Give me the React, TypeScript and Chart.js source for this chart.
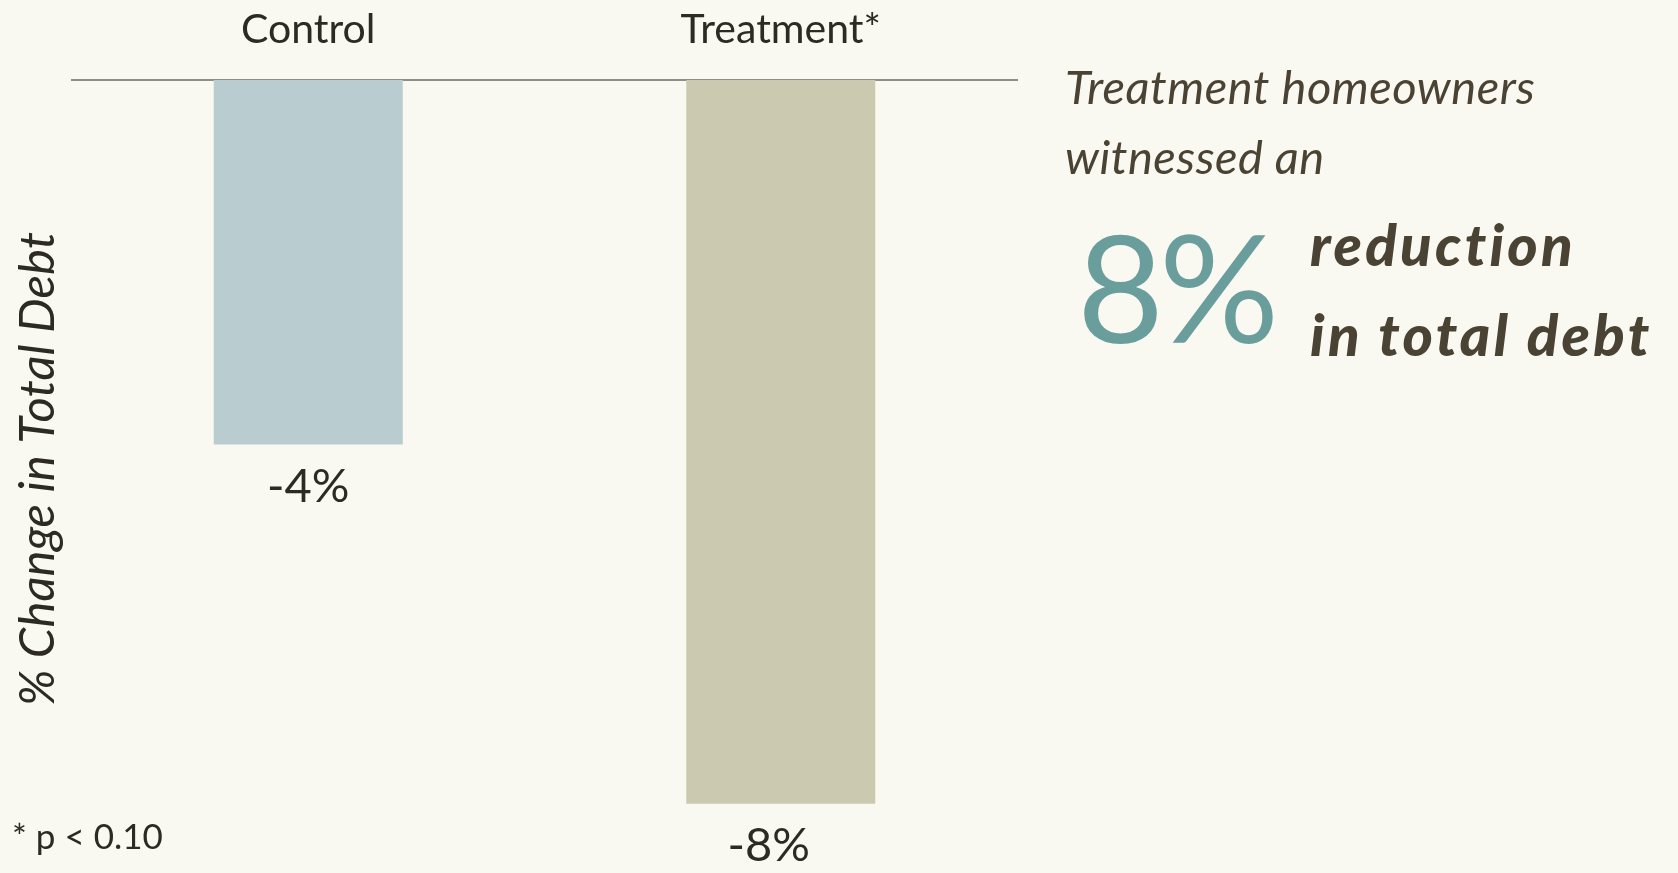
import React, { useEffect, useRef } from "react";
import { Chart, registerables } from "chart.js";

Chart.register(...registerables);

const categories = ["Control", "Treatment*"];
const changeValues = [-4.03, -8.0];
const barColors = ["#b9cdd0", "#cbcab1"];
const yAxisTitle = "% Change in Total Debt";
const yMin = -8.6;
const yMax = 0;

const FONT = "Lato, 'Open Sans', sans-serif";
const DARK = "#2d2a22";
const BROWN = "#4a4334";
const TEAL = "#6a9e9c";
const BG = "#f9f8f1";

const valueLabelPlugin = {
  id: "valueLabels",
  afterDatasetsDraw(chart: any) {
    const ctx = chart.ctx;
    const meta = chart.getDatasetMeta(0);
    const data = chart.data.datasets[0].data as number[];
    ctx.save();
    ctx.font = `47px ${FONT}`;
    ctx.fillStyle = DARK;
    ctx.textAlign = "center";
    ctx.textBaseline = "alphabetic";
    meta.data.forEach((bar: any, i: number) => {
      const txt = `${Math.round(data[i])}%`;
      ctx.fillText(txt, bar.x - 12 * i, bar.y + 57);
    });
    ctx.restore();
  },
};

export default function App() {
  const ref = useRef<HTMLCanvasElement | null>(null);

  useEffect(() => {
    if (!ref.current) return;
    const chart = new Chart(ref.current, {
      type: "bar",
      data: {
        labels: categories,
        datasets: [
          {
            data: changeValues,
            backgroundColor: barColors,
            borderWidth: 0,
            barPercentage: 0.4,
            categoryPercentage: 1,
          },
        ],
      },
      options: {
        responsive: false,
        animation: false,
        events: [],
        layout: { padding: { top: 0, left: 0, right: 661, bottom: 15 } },
        plugins: {
          legend: { display: false },
          tooltip: { enabled: false },
          title: { display: false },
        },
        scales: {
          x: {
            position: "top",
            offset: true,
            grid: { display: false, drawTicks: false },
            border: { display: true, color: "#8e8e8a", width: 2 },
            ticks: {
              color: DARK,
              font: { family: FONT, size: 41 },
              padding: 26,
              maxRotation: 0,
              autoSkip: false,
            },
            afterFit: (scale: any) => {
              scale.height = 80;
            },
          },
          y: {
            min: yMin,
            max: yMax,
            grid: { display: false, drawTicks: false },
            border: { display: false },
            ticks: { display: false },
            title: {
              display: true,
              text: yAxisTitle,
              color: DARK,
              font: { family: FONT, size: 49, style: "italic" },
              padding: { top: 9, bottom: 0 },
            },
            afterFit: (scale: any) => {
              scale.width = 72;
            },
          },
        },
      },
      plugins: [valueLabelPlugin],
    });
    return () => chart.destroy();
  }, []);

  const abs = (top: number, left: number, extra: React.CSSProperties): React.CSSProperties => ({
    position: "absolute",
    top,
    left,
    lineHeight: 1,
    whiteSpace: "nowrap",
    margin: 0,
    fontFamily: FONT,
    ...extra,
  });

  const boldLine: React.CSSProperties = {
    fontSize: 58,
    fontStyle: "italic",
    fontWeight: 900,
    letterSpacing: 3.3,
    color: BROWN,
  };

  const introLine: React.CSSProperties = {
    fontSize: 47,
    fontStyle: "italic",
    letterSpacing: 0.5,
    color: BROWN,
  };

  return (
    <div
      style={{
        position: "absolute",
        left: 0,
        top: 0,
        width: 1678,
        height: 873,
        background: BG,
        overflow: "hidden",
      }}
    >
      <canvas ref={ref} width={1678} height={873} style={{ display: "block" }} />
      <div style={abs(63, 1065, introLine)}>Treatment homeowners</div>
      <div style={abs(133, 1065, introLine)}>witnessed an</div>
      <div style={abs(210, 1077, { fontSize: 150, color: TEAL, letterSpacing: -5 })}>8%</div>
      <div style={abs(215, 1310, boldLine)}>reduction</div>
      <div style={abs(305, 1310, boldLine)}>in total debt</div>
      <div style={abs(818, 12, { fontSize: 35, color: DARK })}>* p &lt; 0.10</div>
    </div>
  );
}
